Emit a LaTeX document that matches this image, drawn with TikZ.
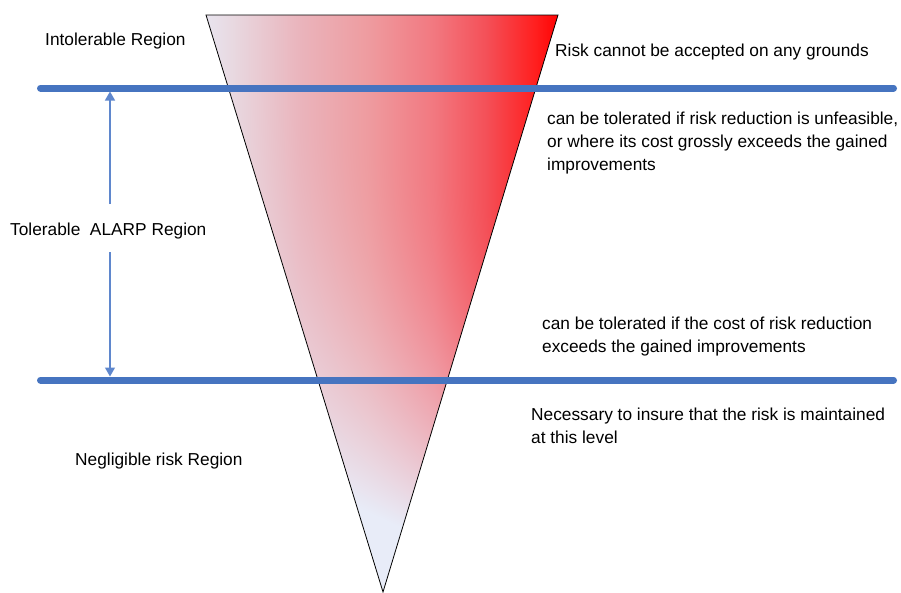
\documentclass[tikz,border=0pt]{standalone}
\usepackage{fontspec}
\setmainfont{Liberation Sans}
\usetikzlibrary{arrows.meta}
\definecolor{lineblue}{RGB}{70,116,192}
\definecolor{arrowblue}{RGB}{95,135,205}
\pgfdeclarefunctionalshading{riskfn}{\pgfpointorigin}{\pgfpoint{352bp}{577bp}}{}{
  exch dup 17.4 add 370.4 div
  dup 0 lt {pop 0} if dup 1 gt {pop 1} if
  3 1 roll
  177 exch sub 800 div
  exch 442 exch sub 370 div add
  dup 0 lt {pop 0} if dup mul dup 1 gt {pop 1} if
  exch
  232
  1 index 0.12 sub dup 0 lt {pop 0} if 11.1 mul add
  1 index 0.30 sub dup 0 lt {pop 0} if 11.1 mul add
  1 index 0.66 sub dup 0 lt {pop 0} if -7.9 mul add
  1 index 0.80 sub dup 0 lt {pop 0} if 70.3 mul add
  1 index 0.93 sub dup 0 lt {pop 0} if -84.6 mul add
  3 1 roll
  dup -166.7 mul 236 add
  1 index 0.12 sub dup 0 lt {pop 0} if -33.3 mul add
  1 index 0.30 sub dup 0 lt {pop 0} if 66.7 mul add
  1 index 0.48 sub dup 0 lt {pop 0} if -66.7 mul add
  1 index 0.66 sub dup 0 lt {pop 0} if -85.7 mul add
  1 index 0.80 sub dup 0 lt {pop 0} if -83.5 mul add
  1 index 0.93 sub dup 0 lt {pop 0} if -87.9 mul add
  3 1 roll
  dup -200 mul 248 add
  1 index 0.30 sub dup 0 lt {pop 0} if 44.4 mul add
  1 index 0.48 sub dup 0 lt {pop 0} if -22.2 mul add
  1 index 0.66 sub dup 0 lt {pop 0} if -107.9 mul add
  1 index 0.80 sub dup 0 lt {pop 0} if -145.1 mul add
  1 index 0.93 sub dup 0 lt {pop 0} if -26.3 mul add
  exch pop
  1 index 1 exch sub mul 1 index 248 mul add 255 div
  4 1 roll
  exch 1 index 1 exch sub mul 1 index 236 mul add 255 div
  3 1 roll
  exch 1 index 1 exch sub mul exch 232 mul add 255 div
  3 1 roll exch
}
\begin{document}
\begin{tikzpicture}[x=1pt,y=-1pt,
  lbl/.style={inner sep=0pt, font=\fontsize{17.3}{23}\selectfont},
  blk/.style={lbl, align=left, anchor=north west, execute at begin node=\strut},
  hline/.style={draw=lineblue, line width=7pt, line cap=round},
  arr/.style={draw=arrowblue, line width=1.3pt, -{Triangle[length=9pt,width=10pt]}},
  tri/.style={draw=black, line width=0.8pt, line join=miter}]
\useasboundingbox (0,0) rectangle (901,592);
\coordinate (TL) at (206,15);
\coordinate (TR) at (558,15);
\coordinate (AP) at (383,592);
\begin{scope}
  \clip (TL) -- (TR) -- (AP) -- cycle;
  \begin{scope}[shift={(206,592)}]
    \pgftext[left,bottom]{\pgfuseshading{riskfn}}
  \end{scope}
\end{scope}
\draw[tri] (TL) -- (TR) -- (AP) -- cycle;

\coordinate (L1a) at (40.5,88);
\coordinate (L1b) at (893.5,88);
\coordinate (L2a) at (40.5,380);
\coordinate (L2b) at (893.5,380);
\draw[hline] (L1a) -- (L1b);
\draw[hline] (L2a) -- (L2b);

\node[lbl, anchor=base west] (intol) at (45,45) {Intolerable Region};
\node[lbl, anchor=base west] (nocc) at (555,56) {Risk cannot be accepted on any grounds};
\node[blk] (tol1) at (547,111.9) {can be tolerated if risk reduction is unfeasible,\\or where its cost grossly exceeds the gained\\improvements};
\node[lbl, anchor=base west] (alarp) at (10,235) {Tolerable\ \ ALARP Region};
\node[blk] (tol2) at (542,316.6) {can be tolerated if the cost of risk reduction\\exceeds the gained improvements};
\node[blk] (nec) at (531,407.9) {Necessary to insure that the risk is maintained\\at this level};
\node[lbl, anchor=base west] (negl) at (75,465.7) {Negligible risk Region};

\coordinate (upT) at (110,91.5);
\coordinate (loT) at (110,376.5);
\coordinate (a1) at (110,204);
\coordinate (a2) at (110,252);
\draw[arr] (a1) -- (upT);
\draw[arr] (a2) -- (loT);
\end{tikzpicture}
\end{document}
